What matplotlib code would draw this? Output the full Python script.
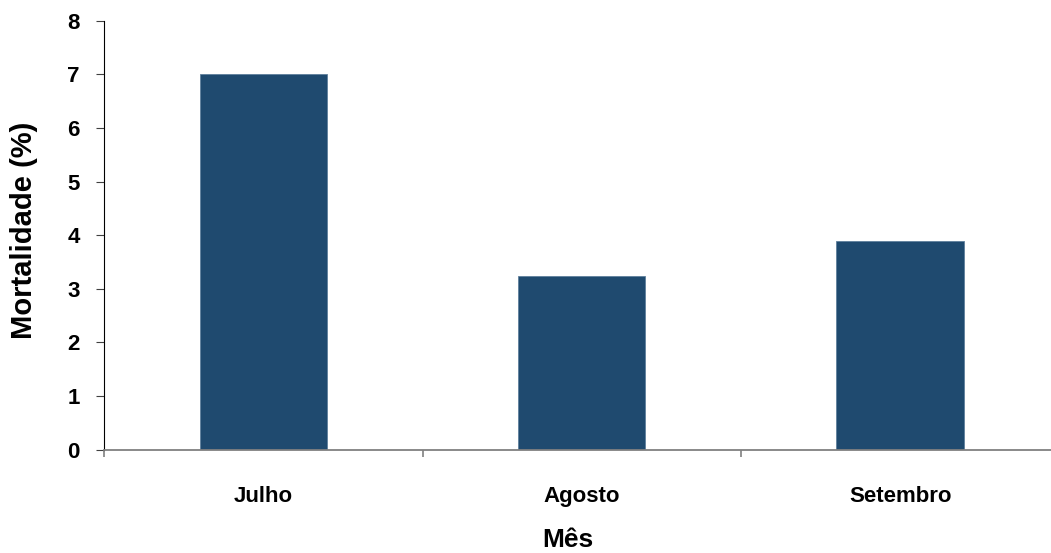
import numpy as np
import matplotlib.pyplot as plt

meses = ["Julho", "Agosto", "Setembro"]
mortalidade = [7.0, 3.23, 3.89]
y_ticks = [0, 1, 2, 3, 4, 5, 6, 7, 8]

plt.rcParams['font.family'] = ['Liberation Sans', 'DejaVu Sans']
plt.rcParams['font.weight'] = 'bold'

fig = plt.figure(figsize=(10.51, 5.53), dpi=100)
ax = fig.add_axes([0.0992, 0.1868, 0.9008, 0.7758])

x = np.arange(len(meses))
ax.bar(x, mortalidade, width=0.4, color="#1F4A6F", edgecolor="#5F7F9C", linewidth=0.6)

ax.set_ylim(0, 8)
ax.set_xlim(-0.5, 2.474)
ax.set_yticks(y_ticks)
ax.set_yticklabels([str(v) for v in y_ticks], fontsize=16, fontweight="bold")
ax.tick_params(axis="y", length=5.5, width=0.8, color="#404040", pad=12)

# rótulos nas categorias, marcas entre as categorias
ax.set_xticks(x)
ax.set_xticklabels(meses, fontsize=16, fontweight="bold")
ax.tick_params(axis="x", which="major", length=0, pad=26)
ax.set_xticks(np.arange(len(meses)) - 0.5, minor=True)
ax.tick_params(axis="x", which="minor", length=5, width=1.2, color="#808080")

ax.spines["top"].set_visible(False)
ax.spines["right"].set_visible(False)
ax.spines["left"].set_color("black")
ax.spines["left"].set_linewidth(0.8)
ax.spines["bottom"].set_color("#808080")
ax.spines["bottom"].set_linewidth(1.3)

fig.text(0.023, 0.584, "Mortalidade (%)", rotation=90, ha="center", va="center",
         fontsize=21, fontweight="bold")
fig.text(0.540, 0.002, "Mês", ha="center", va="bottom", fontsize=19, fontweight="bold")

fig.savefig("out.png", dpi=100)
